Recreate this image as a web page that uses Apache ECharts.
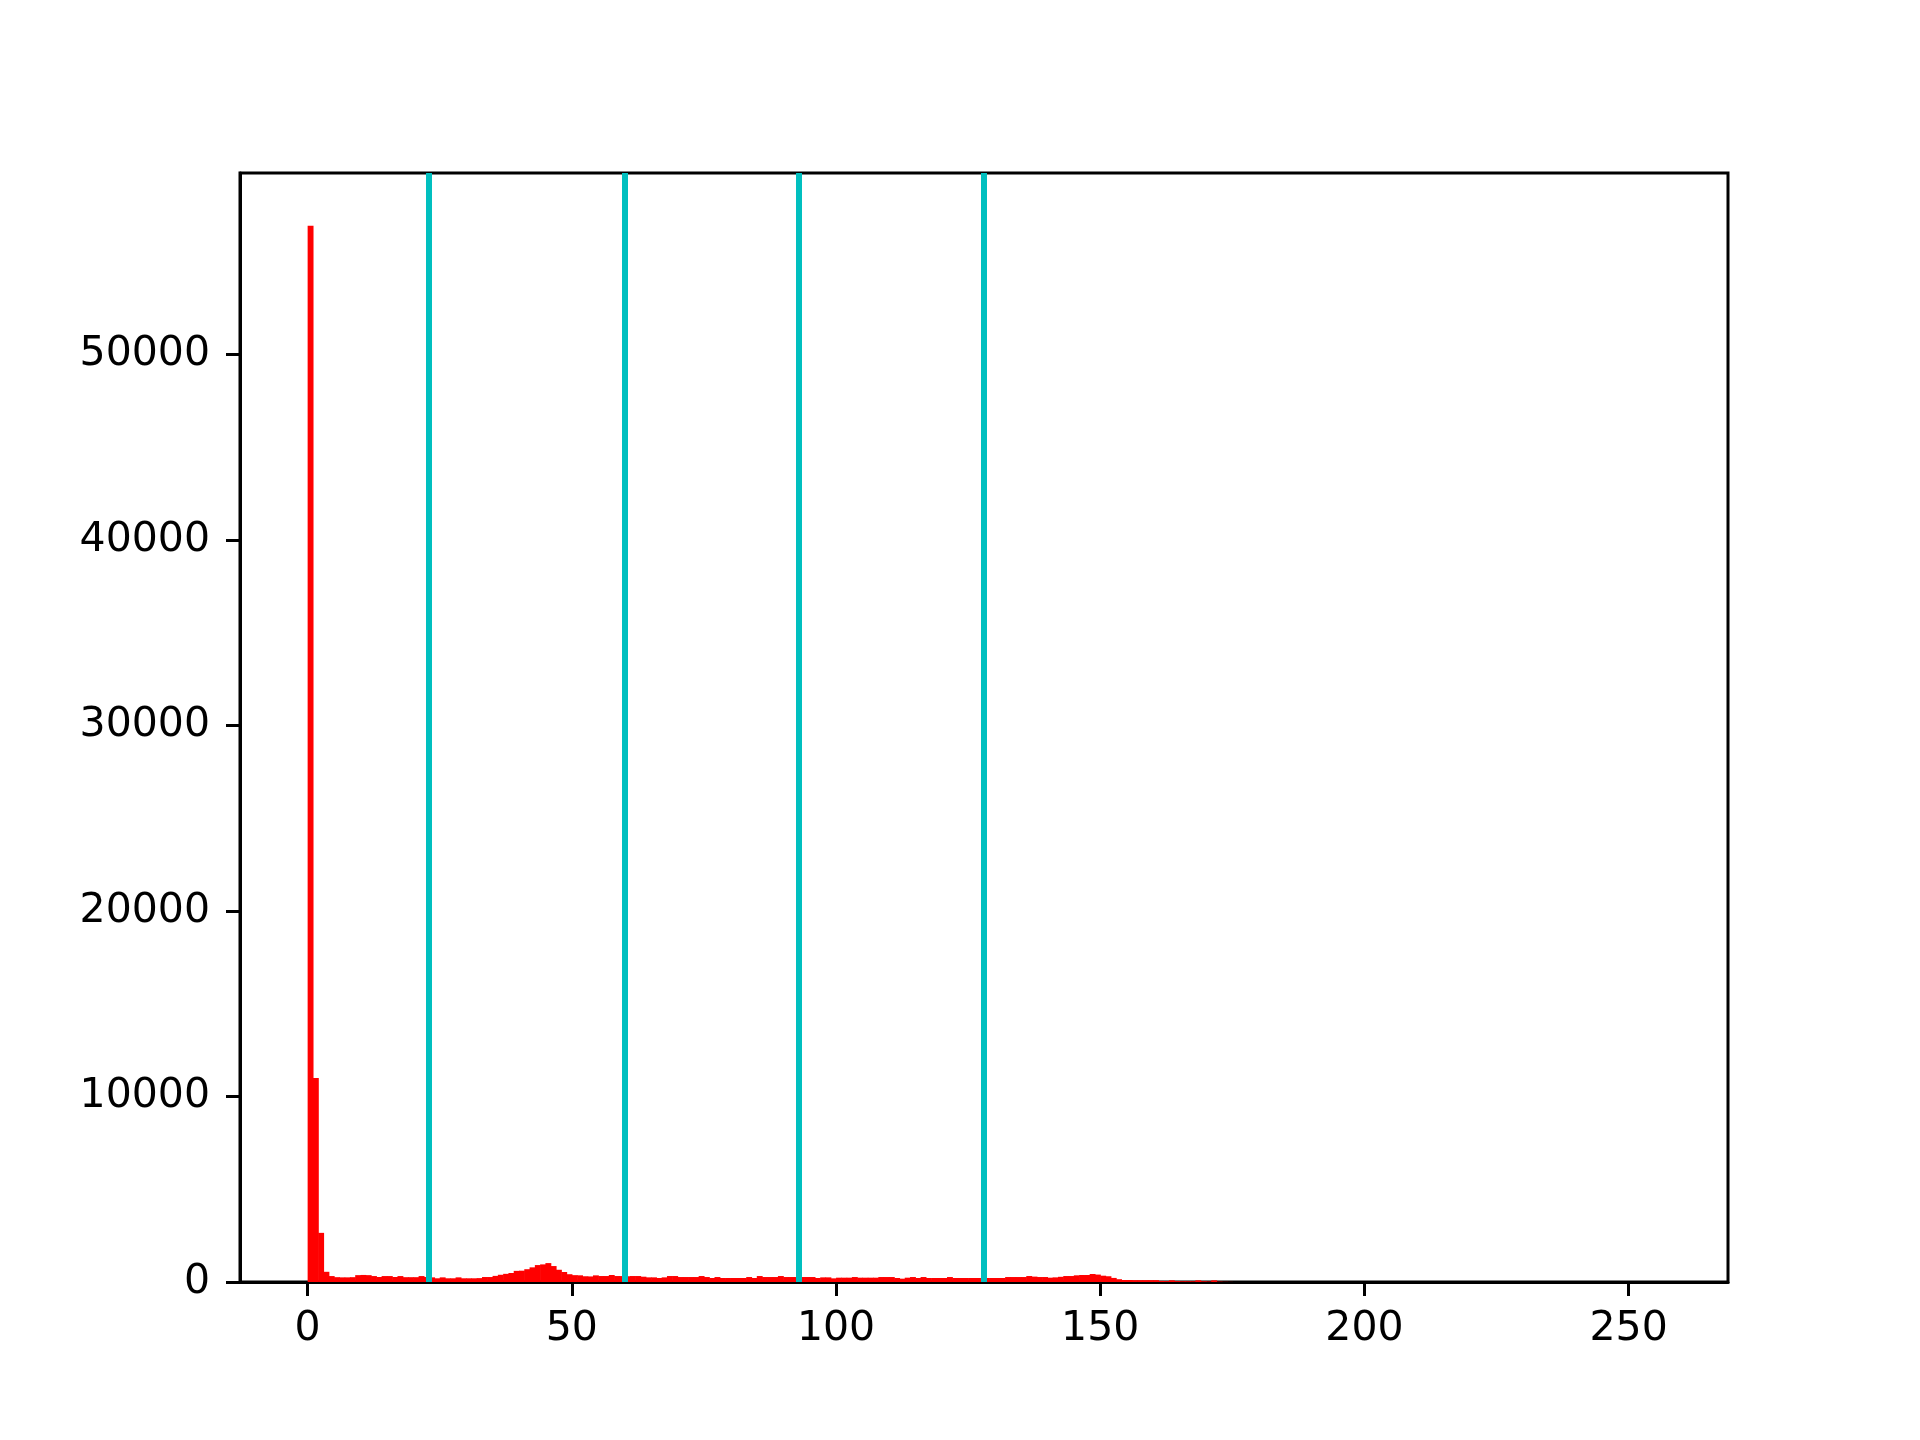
<!DOCTYPE html>
<html>
<head>
<meta charset="utf-8">
<script src="https://cdn.jsdelivr.net/npm/echarts@6/dist/echarts.min.js"></script>
<style>
html,body{margin:0;padding:0;background:#fff;}
#chart{width:1920px;height:1440px;}
</style>
</head>
<body>
<div id="chart"></div>
<script>
// Histogram counts for pixel intensity bins 0..255 (bin width 1)
const counts = [
  56950, 11000, 2650, 550, 320, 260, 250, 250, 260, 370,
  380, 370, 320, 270, 320, 320, 270, 320, 260, 260,
  260, 320, 270, 250, 200, 250, 200, 200, 250, 200,
  200, 200, 210, 268, 268, 330, 390, 440, 485, 600,
  610, 690, 790, 913, 950, 1020, 860, 660, 540, 420,
  370, 360, 310, 300, 358, 322, 322, 376, 322, 320,
  310, 322, 322, 286, 250, 250, 215, 250, 322, 322,
  268, 268, 268, 268, 322, 268, 215, 268, 215, 215,
  215, 215, 215, 268, 215, 322, 268, 268, 268, 322,
  268, 268, 268, 268, 268, 268, 215, 250, 250, 197,
  233, 233, 233, 268, 233, 233, 233, 233, 268, 268,
  268, 215, 179, 233, 268, 215, 268, 215, 215, 215,
  215, 268, 215, 215, 215, 215, 215, 215, 215, 215,
  215, 215, 268, 268, 268, 268, 322, 290, 268, 268,
  233, 250, 280, 322, 322, 360, 376, 376, 430, 400,
  340, 310, 220, 150, 107, 107, 100, 100, 100, 100,
  100, 60, 50, 90, 50, 40, 40, 40, 90, 40,
  30, 90, 20, 10, 5, 0, 0, 0, 0, 0,
  0, 0, 0, 0, 0, 0, 0, 0, 0, 0,
  0, 0, 0, 0, 0, 0, 0, 0, 0, 0,
  0, 0, 0, 0, 0, 0, 0, 0, 0, 0,
  0, 0, 0, 0, 0, 0, 0, 0, 0, 0,
  0, 0, 0, 0, 0, 0, 0, 0, 0, 0,
  0, 0, 0, 0, 0, 0, 0, 0, 0, 0,
  0, 0, 0, 0, 0, 0, 0, 0, 0, 0,
  0, 0, 0, 0, 0, 0
];
// Threshold lines (cyan verticals)
const thresholds = [23, 60, 93, 128];
// Tick labels
const xTicks = [0, 50, 100, 150, 200, 250];
const yTicks = [0, 10000, 20000, 30000, 40000, 50000];

const binData = counts.map((v, i) => [i, v]);
const maxCount = Math.max.apply(null, counts);

const chart = echarts.init(document.getElementById('chart'), null, {renderer: 'canvas'});
const font = 'DejaVu Sans';
chart.setOption({
  animation: false,
  backgroundColor: '#ffffff',
  grid: {
    left: 240, top: 173, right: 192, bottom: 158,
    show: true, borderColor: '#000', borderWidth: 3, backgroundColor: 'transparent'
  },
  xAxis: {
    type: 'value',
    min: -12.8, max: 268.8,
    splitLine: {show: false},
    axisLine: {show: true, onZero: false, lineStyle: {color: '#000', width: 3}},
    axisTick: {show: true, customValues: xTicks, length: 14, lineStyle: {color: '#000', width: 3}},
    axisLabel: {customValues: xTicks, color: '#000', fontFamily: font, fontSize: 41, margin: 27,
      formatter: v => String(v)}
  },
  yAxis: {
    type: 'value',
    min: 0, max: maxCount * 1.05,
    splitLine: {show: false},
    axisLine: {show: true, onZero: false, lineStyle: {color: '#000', width: 3}},
    axisTick: {show: true, customValues: yTicks, length: 14, lineStyle: {color: '#000', width: 3}},
    axisLabel: {customValues: yTicks, color: '#000', fontFamily: font, fontSize: 41, margin: 30,
      formatter: v => String(v)}
  },
  series: [
    {
      type: 'custom',
      data: binData,
      z: 2,
      renderItem: function (params, api) {
        const x = api.value(0), v = api.value(1);
        if (!v) return null;
        const p0 = api.coord([x, 0]);
        const p1 = api.coord([x + 1, v]);
        return {
          type: 'rect',
          shape: {x: p0[0], y: p1[1], width: p1[0] - p0[0] + 0.6, height: p0[1] - p1[1]},
          style: {fill: '#ff0000', stroke: null}
        };
      }
    },
    {
      type: 'line',
      data: [],
      z: 3,
      markLine: {
        silent: true,
        symbol: ['none', 'none'],
        label: {show: false},
        lineStyle: {color: '#00bfbf', width: 6, type: 'solid'},
        data: thresholds.map(t => ({xAxis: t}))
      }
    }
  ]
});
</script>
</body>
</html>
